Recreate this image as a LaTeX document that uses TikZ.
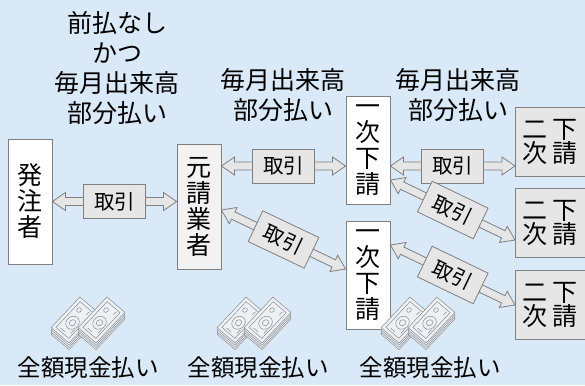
\documentclass[tikz,border=0pt]{standalone}
\usepackage{fontspec}
\setmainfont{Noto Sans CJK JP}
\usetikzlibrary{calc}

\definecolor{bg}{HTML}{DAE9F7}
\definecolor{edge}{HTML}{7F7F7F}
\definecolor{boxgray}{HTML}{E6E6E6}
\definecolor{boxlight}{HTML}{F2F2F2}
\definecolor{billfill}{HTML}{EEF1F3}
\definecolor{billline}{HTML}{868C92}

\tikzset{
  party/.style={draw=edge, line width=0.9pt, fill=white, inner sep=0pt,
    align=center, font=\fontsize{25}{26}\selectfont},
  subbox/.style={draw=edge, line width=0.9pt, fill=boxgray, inner xsep=7pt,
    inner ysep=0pt, anchor=west, minimum width=85pt, minimum height=69pt,
    align=left, text width=71pt, font=\fontsize{25}{24}\selectfont},
  arrowbody/.style={draw=edge, fill=boxgray, line width=0.8pt, line join=miter},
  tradetag/.style={draw=edge, fill=boxgray, line width=0.8pt, inner sep=0pt,
    minimum width=62pt, minimum height=34pt, font=\fontsize{20.5}{20.5}\selectfont},
  note/.style={align=center, inner sep=0pt, font=\fontsize{25}{30}\selectfont},
  paynote/.style={inner sep=0pt, font=\fontsize{23.5}{23.5}\selectfont},
  bill/.style={draw=billline, line width=0.5pt},
  % slanted face of a note: local unit square mapped onto a parallelogram
  noteface/.style={cm={28.8,30.6,-18,15.3,(0,0)}},
  % one stack of notes: a slanted face over a few layers
  cashstack/.pic={
    \foreach \k in {3,2,1,0}{
      \begin{scope}[shift={(0,2.2*\k)}]
        \begin{scope}[noteface]
          \draw[bill, fill=billfill] (-0.5,-0.5) rectangle (0.5,0.5);
        \end{scope}
      \end{scope}
    }
    \begin{scope}[noteface]
      \draw[bill] (-0.42,-0.36) rectangle (0.42,0.36);
      \draw[bill] (-0.08,0.02) ellipse (0.17 and 0.26);
      \draw[bill] (-0.08,0.02) ellipse (0.08 and 0.12);
      \draw[bill] (0.25,-0.15) ellipse (0.06 and 0.09);
      \draw[bill] (0.28,0.22) -- (0.38,0.22);
      \draw[bill] (-0.36,-0.2) -- (-0.36,0.05);
      \draw[bill] (-0.3,0.28) -- (-0.18,0.28);
    \end{scope}
  },
  cashpair/.pic={
    \pic at (-13.5,0) {cashstack};
    \pic at (13.5,0) {cashstack};
  }
}

% Two-headed block arrow between two points, with a rotated 取引 tag
\newcommand\tradearrow[3]{%
  \draw[arrowbody] (#1)
    -- ($(#1)!13pt!(#2)!9pt!90:(#2)$) -- ($(#1)!13pt!(#2)!4pt!90:(#2)$)
    -- ($(#2)!13pt!(#1)!4pt!-90:(#1)$) -- ($(#2)!13pt!(#1)!9pt!-90:(#1)$)
    -- (#2)
    -- ($(#2)!13pt!(#1)!9pt!90:(#1)$) -- ($(#2)!13pt!(#1)!4pt!90:(#1)$)
    -- ($(#1)!13pt!(#2)!4pt!-90:(#2)$) -- ($(#1)!13pt!(#2)!9pt!-90:(#2)$)
    -- cycle;
  \path let \p1=($(#2)-(#1)$), \n1={atan2(\y1,\x1)} in
    ($(#1)!0.5!(#2)$) node[tradetag, rotate=\n1] (#3) {取引};
}

\begin{document}
\begin{tikzpicture}[x=1pt, y=-1pt]
  \clip (0,0) rectangle (585,385);
  \fill[bg] (0,0) rectangle (585,385);

  % parties
  \node[party, minimum width=44pt, minimum height=125pt] (hatchu) at (30,201.5) {発\\注\\者};
  \node[party, fill=boxlight, minimum width=44pt, minimum height=125pt] (moto) at (199,206.5) {元\\請\\業\\者};
  \node[party, minimum width=44pt, minimum height=108pt] (ichiA) at (368,150) {一\\次\\下\\請};
  \node[party, minimum width=44pt, minimum height=108pt] (ichiB) at (368,275) {一\\次\\下\\請};
  \node[subbox] (niA) at (515,141.5) {二\hspace{5pt}下\\次\hspace{5pt}請};
  \node[subbox] (niB) at (515,223) {二\hspace{5pt}下\\次\hspace{5pt}請};
  \node[subbox] (niC) at (515,305) {二\hspace{5pt}下\\次\hspace{5pt}請};

  % payment conditions
  \node[note] (cond1) at (117,68) {前払なし\\かつ\\毎月出来高\\部分払い};
  \node[note] (cond2) at (283,95) {毎月出来高\\部分払い};
  \node[note] (cond3) at (458,95) {毎月出来高\\部分払い};

  % arrow end points
  \coordinate (f1) at (hatchu.east);
  \coordinate (t1) at (moto.west |- f1);
  \coordinate (t2) at ([yshift=-16pt]ichiA.west);
  \coordinate (f2) at (moto.east |- t2);
  \coordinate (f3) at ([yshift=-16pt]ichiA.east);
  \coordinate (t3) at (niA.west |- f3);
  \coordinate (f4) at ([yshift=-3.5pt]moto.east);
  \coordinate (t4) at ([yshift=6pt]ichiB.west);
  \coordinate (f5) at ([yshift=-30pt]ichiA.east);
  \coordinate (t5) at ([yshift=-17pt]niB.west);
  \coordinate (f6) at ([yshift=30pt]ichiB.east);
  \coordinate (t6) at (niC.west);

  \tradearrow{f1}{t1}{deal1}
  \tradearrow{f2}{t2}{deal2}
  \tradearrow{f3}{t3}{deal3}
  \tradearrow{f4}{t4}{deal4}
  \tradearrow{f5}{t5}{deal5}
  \tradearrow{f6}{t6}{deal6}

  % cash and full payment notes
  \pic at (88,320) {cashpair};
  \pic at (254,320) {cashpair};
  \pic at (418,320) {cashpair};
  \node[paynote] (pay1) at (88,368) {全額現金払い};
  \node[paynote] (pay2) at (258,368) {全額現金払い};
  \node[paynote] (pay3) at (430,368) {全額現金払い};
\end{tikzpicture}
\end{document}
